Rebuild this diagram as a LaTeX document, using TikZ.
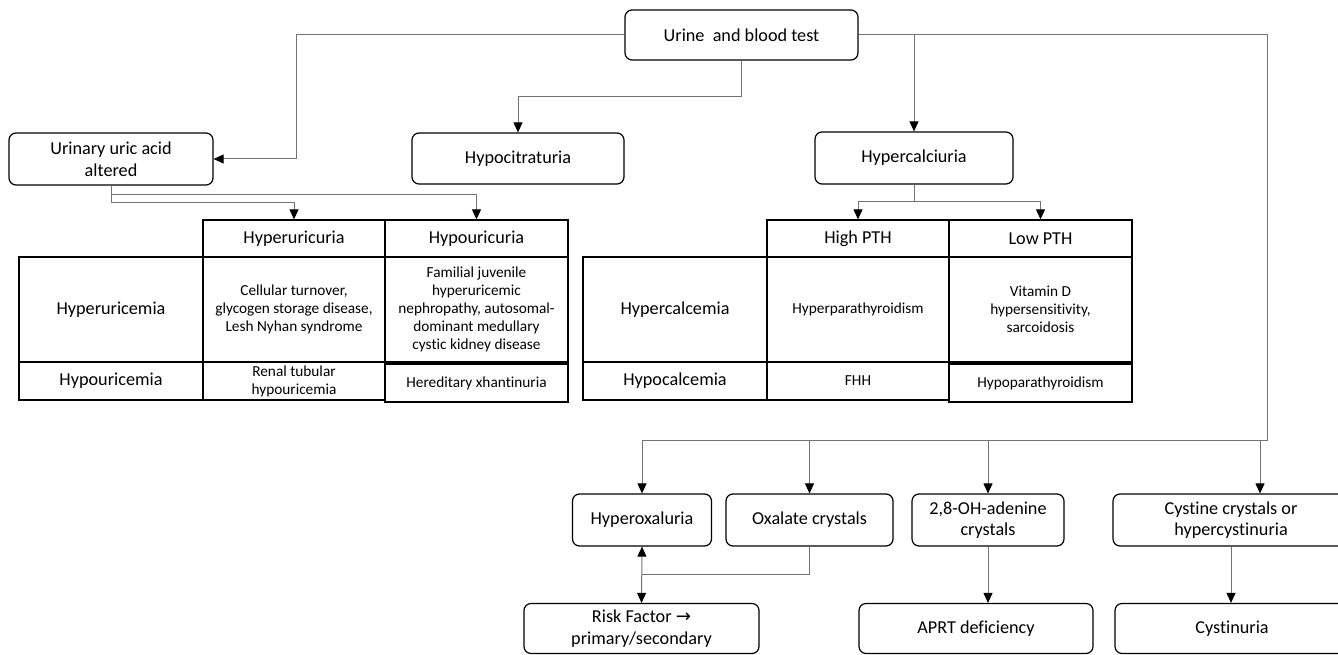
\documentclass[tikz,border=0pt]{standalone}
\usepackage{fontspec}
\setmainfont[Ligatures=NoCommon]{Carlito}
\newfontfamily\arrowfont{DejaVu Sans}
\usetikzlibrary{arrows.meta}
\usetikzlibrary{calc}

\tikzset{
  box/.style={draw, line width=1.2pt, rounded corners=7pt, align=center, inner sep=0pt,
    font=\fontsize{18.2}{21.5}\selectfont},
  cell/.style={draw, line width=1.3pt, align=center, inner sep=0pt,
    font=\fontsize{18.2}{21.5}\selectfont},
  smalltext/.style={font=\fontsize{15.3}{18}\selectfont},
  wire/.style={draw=black!55, line width=1pt},
  link/.style={wire, -{Triangle[length=10pt, width=9pt, color=black]}},
  bothway/.style={wire, {Triangle[length=10pt, width=9pt, color=black]}-{Triangle[length=10pt, width=9pt, color=black]}},
}

\begin{document}
\begin{tikzpicture}[x=1pt, y=-1pt]
  \clip (0,0) rectangle (1338,655);

  \node[box, minimum width=233pt, minimum height=50pt] (test) at (741.5,35) {Urine\ \ and blood test};
  \node[box, minimum width=204pt, minimum height=52pt] (uric) at (111,159) {Urinary uric acid\\altered};
  \node[box, minimum width=212pt, minimum height=51pt] (citrate) at (518,158.5) {Hypocitraturia};
  \node[box, minimum width=198pt, minimum height=52pt] (calciuria) at (914,158) {Hypercalciuria};

  \foreach \k/\dx/\ha/\hb/\ra/\rb/\caa/\cab/\cba/\cbb in {
    1/0/Hyperuricuria/Hypouricuria/Hyperuricemia/Hypouricemia/{Cellular turnover,\\glycogen storage disease,\\Lesh Nyhan syndrome}/{Familial juvenile\\hyperuricemic\\nephropathy, autosomal-\\dominant medullary\\cystic kidney disease}/{Renal tubular\\hypouricemia}/{Hereditary xhantinuria},
    2/564/High PTH/Low PTH/Hypercalcemia/Hypocalcemia/Hyperparathyroidism/{Vitamin D\\hypersensitivity,\\sarcoidosis}/FHH/Hypoparathyroidism} {
    \begin{scope}[xshift=\dx]
      \node[cell, minimum width=182pt, minimum height=37pt] (ha\k) at (294,238.5) {\ha};
      \node[cell, minimum width=183pt, minimum height=37pt] (hb\k) at (476.5,238.5) {\hb};
      \node[cell, minimum width=184pt, minimum height=105pt] (ra\k) at (111,309.5) {\ra};
      \node[cell, minimum width=184pt, minimum height=38pt] (rb\k) at (111,381) {\rb};
      \node[cell, smalltext, minimum width=182pt, minimum height=105pt] (caa\k) at (294,309.5) {\caa};
      \node[cell, smalltext, minimum width=183pt, minimum height=105pt] (cab\k) at (476.5,309.5) {\cab};
      \node[cell, smalltext, minimum width=182pt, minimum height=38pt] (cba\k) at (294,381) {\cba};
      \node[cell, smalltext, minimum width=183pt, minimum height=38pt] (cbb\k) at (476.5,383) {\cbb};
    \end{scope}
  }

  \node[box, minimum width=139pt, minimum height=52pt] (hyperox) at (642,520) {Hyperoxaluria};
  \node[box, minimum width=167pt, minimum height=52pt] (oxalate) at (809.5,520) {Oxalate crystals};
  \node[box, minimum width=152pt, minimum height=52pt] (adenine) at (988,520) {2,8-OH-adenine\\crystals};
  \node[box, minimum width=236pt, minimum height=52pt] (cystine) at (1231,520) {Cystine crystals or\\hypercystinuria};
  \node[box, minimum width=235pt, minimum height=50pt] (risk) at (641.5,628.5) {Risk Factor {\arrowfont →}\\primary/secondary};
  \node[box, minimum width=234pt, minimum height=50pt] (aprt) at (976,628.5) {APRT deficiency};
  \node[box, minimum width=234pt, minimum height=50pt] (cystinuria) at (1232,628.5) {Cystinuria};

  \coordinate (rail) at (1267,440);
  \coordinate (cysdrop) at ([xshift=29pt]cystine.north);

  \draw[link] (test.west) -| ([xshift=83pt]uric.east) -- (uric.east);
  \draw[link] (test.south) |- ([yshift=36pt]citrate.north) -- (citrate.north);
  \draw[link] (test.east -| calciuria.north) -- (calciuria.north);
  \draw[wire] (test.east) -| (rail) -- (rail -| hyperox.north);
  \foreach \n in {hyperox, oxalate, adenine}
    \draw[link] (rail -| \n.north) -- (\n.north);
  \draw[link] (rail -| cysdrop) -- (cysdrop);

  \draw[link] (uric.south) |- ([yshift=25pt]hb1.north) -- (hb1.north);
  \draw[link] (uric.south) |- ([yshift=17pt]ha1.north) -- (ha1.north);
  \draw[link] (calciuria.south) |- ([yshift=18pt]ha2.north) -- (ha2.north);
  \draw[link] (calciuria.south) |- ([yshift=18pt]hb2.north) -- (hb2.north);

  \draw[bothway] (hyperox.south) -- (risk.north);
  \draw[wire] (oxalate.south) |- ($(hyperox.south)!0.5!(risk.north)$);
  \draw[link] (adenine.south) -- (adenine.south |- aprt.north);
  \draw[link] (cystine.south) -- (cystine.south |- cystinuria.north);
\end{tikzpicture}
\end{document}
